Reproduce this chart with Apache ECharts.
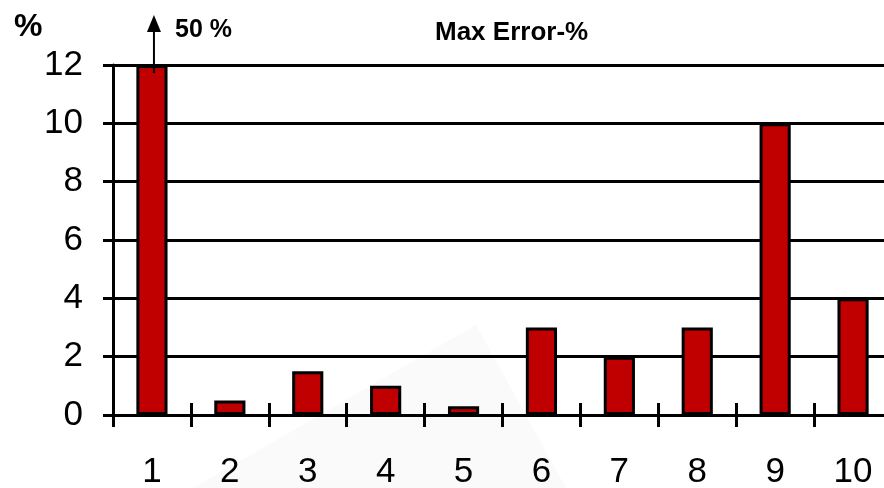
<!DOCTYPE html>
<html>
<head>
<meta charset="utf-8">
<script src="https://cdn.jsdelivr.net/npm/echarts@6/dist/echarts.min.js"></script>
<style>
html,body{margin:0;padding:0;background:#fff;}
#chart{width:884px;height:488px;}
</style>
</head>
<body>
<div id="chart"></div>
<script>
// Data
const categories = ['1','2','3','4','5','6','7','8','9','10'];
const maxError = [12, 0.5, 1.5, 1, 0.3, 3, 2, 3, 10, 4]; // bar 1 clipped at axis max (actual 50 %)
const yTicks = [0, 2, 4, 6, 8, 10, 12];
const clippedNote = '50 %';
const titleText = 'Max Error-%';
const unitText = '%';

const FONT = '"Liberation Sans", Arial, sans-serif';
const chart = echarts.init(document.getElementById('chart'), null, {renderer: 'canvas'});

const shadow = {type: 'polygon', shape: {points: [[476, 325], [193, 488], [566, 488]]}, style: {fill: '#fafafa'}, z: -10, silent: true};

const option = {
  animation: false,
  backgroundColor: '#fff',
  grid: {left: 113, top: 65, width: 779, height: 350, containLabel: false, outerBoundsMode: 'none'},
  xAxis: [
    {
      type: 'category', data: categories, boundaryGap: true,
      axisLine: {show: true, lineStyle: {color: '#000', width: 3}},
      axisTick: {show: true, length: 12, lineStyle: {color: '#000', width: 3}},
      axisLabel: {fontSize: 35, color: '#000', margin: 40, fontFamily: FONT},
      splitLine: {show: false}
    },
    {
      type: 'category', data: categories, boundaryGap: true, position: 'bottom',
      axisLine: {show: false},
      axisTick: {show: true, inside: true, length: 12, lineStyle: {color: '#000', width: 3}},
      axisLabel: {show: false},
      splitLine: {show: false}
    }
  ],
  yAxis: {
    type: 'value', min: yTicks[0], max: yTicks[yTicks.length - 1], interval: 2,
    axisLine: {show: true, lineStyle: {color: '#000', width: 3}},
    axisTick: {show: true, length: 10, lineStyle: {color: '#000', width: 3}},
    axisLabel: {fontSize: 35, color: '#000', margin: 30, fontFamily: FONT},
    splitLine: {show: true, lineStyle: {color: '#000', width: 3}}
  },
  series: [{
    type: 'bar', data: maxError, barWidth: '40%', xAxisIndex: 0,
    itemStyle: {color: '#C00000', borderColor: '#000', borderWidth: 3},
    z: 3
  }]
};
chart.setOption(option);

// Annotation: arrow above clipped bar 1
const base = chart.convertToPixel({xAxisIndex: 0, yAxisIndex: 0}, [categories[0], maxError[0]]);
const ax = base[0] + 2;
const topY = 15;
chart.setOption({
  graphic: [
    shadow,
    {type: 'line', shape: {x1: ax, y1: base[1] + 8, x2: ax, y2: topY + 14}, style: {stroke: '#000', lineWidth: 2}, z: 10},
    {type: 'polygon', shape: {points: [[ax, topY], [ax - 7, topY + 17], [ax + 7, topY + 17]]}, style: {fill: '#000'}, z: 10},
    {type: 'text', left: 175, top: 18, style: {text: clippedNote, font: 'bold 25px ' + FONT, fill: '#000'}, z: 10},
    {type: 'text', left: 435, top: 20, style: {text: titleText, font: 'bold 26px ' + FONT, fill: '#000'}, z: 10},
    {type: 'text', left: 14, top: 11, style: {text: unitText, font: 'bold 32px ' + FONT, fill: '#000'}, z: 10}
  ]
});
</script>
</body>
</html>
